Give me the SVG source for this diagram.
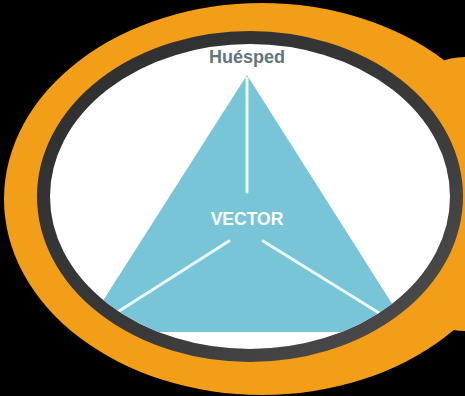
<svg xmlns="http://www.w3.org/2000/svg" width="465" height="396" viewBox="0 0 465 396">
<defs>
<style>
.lbl{font-family:"Liberation Sans",Arial,sans-serif;font-weight:bold;text-anchor:middle}
.wl{stroke:#eaf7f9;stroke-width:3;stroke-linecap:round;fill:none}
.org{fill:#F29E18}
</style>
<clipPath id="inner"><ellipse cx="250" cy="196.5" rx="200" ry="152.5"/></clipPath>
<linearGradient id="ring" x1="0" y1="0" x2="1" y2="1">
<stop offset="0" stop-color="#2e2e2e"/>
<stop offset="0.6" stop-color="#3a3a3a"/>
<stop offset="1" stop-color="#505050"/>
</linearGradient>
</defs>
<rect width="465" height="396" fill="#000"/>
<g id="frame">
<ellipse class="org" cx="262" cy="199" rx="258" ry="196"/>
<path class="org" d="M420 70 L438 63 Q450 57 465 57 L465 331 Q452 331 445 327 L420 320 Z"/>
<ellipse cx="250" cy="196.5" rx="206.5" ry="159" fill="#fff" stroke="url(#ring)" stroke-width="13"/>
</g>
<g id="triangle" clip-path="url(#inner)">
<polygon points="247,75 83,332 410,332" fill="#77C5D6"/>
</g>
<g id="connectors" clip-path="url(#inner)">
<line class="wl" x1="247" y1="78" x2="247" y2="192"/>
<line class="wl" x1="229" y1="241" x2="116" y2="313"/>
<line class="wl" x1="263" y1="241" x2="384" y2="316"/>
</g>
<g id="host"><text class="lbl" x="247" y="63" font-size="18" fill="#62757d">Huésped</text></g>
<g id="vector"><text class="lbl" x="247" y="225" font-size="17.5" fill="#ffffff">VECTOR</text></g>
</svg>
